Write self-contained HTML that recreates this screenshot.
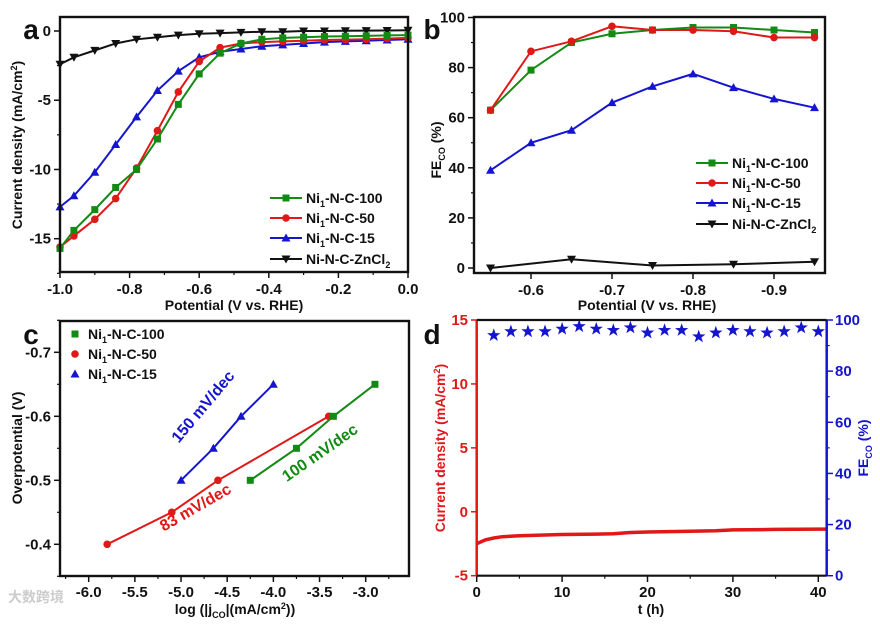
<!DOCTYPE html>
<html><head><meta charset="utf-8">
<style>
body{margin:0;background:#fff;}
svg{display:block;font-family:"Liberation Sans",Arial,sans-serif;font-weight:bold;}
</style></head>
<body>
<svg id="fig" width="880" height="624" viewBox="0 0 880 624" xmlns="http://www.w3.org/2000/svg"></svg>
<script>
// ---------- data ----------
const aX = [-1.0,-0.96,-0.9,-0.84,-0.78,-0.72,-0.66,-0.6,-0.54,-0.48,-0.42,-0.36,-0.3,-0.24,-0.18,-0.12,-0.06,0];
const aGreen = [-15.7,-14.4,-12.9,-11.3,-10.0,-7.8,-5.3,-3.1,-1.6,-0.9,-0.6,-0.5,-0.45,-0.4,-0.38,-0.35,-0.32,-0.3];
const aRed = [-15.6,-14.8,-13.6,-12.1,-9.9,-7.2,-4.4,-2.2,-1.2,-0.9,-0.8,-0.75,-0.7,-0.65,-0.62,-0.6,-0.55,-0.5];
const aBlue = [-12.7,-11.9,-10.2,-8.2,-6.2,-4.3,-2.9,-1.9,-1.5,-1.3,-1.1,-1.0,-0.9,-0.8,-0.75,-0.7,-0.65,-0.6];
const aBlack = [-2.4,-1.9,-1.4,-0.9,-0.6,-0.45,-0.3,-0.2,-0.15,-0.1,-0.05,-0.05,0,0,0.02,0.03,0.04,0.05];
const aXTicks = [-1.0,-0.8,-0.6,-0.4,-0.2,0.0];
const aXTickLabels = ["-1.0","-0.8","-0.6","-0.4","-0.2","0.0"];
const aYTicks = [0,-5,-10,-15];

const bX = [-0.55,-0.6,-0.65,-0.7,-0.75,-0.8,-0.85,-0.9,-0.95];
const bGreen = [63,79,90,93.5,95,96,96,95,94];
const bRed = [63,86.5,90.5,96.5,95,95,94.5,92,92];
const bBlue = [39,50,55,66,72.5,77.5,72,67.5,64];
const bBlackX = [-0.55,-0.65,-0.75,-0.85,-0.95];
const bBlack = [0,3.5,1,1.5,2.5];
const bXTicks = [-0.6,-0.7,-0.8,-0.9];
const bYTicks = [0,20,40,60,80,100];

const cRedX = [-5.8,-5.1,-4.6,-3.4];
const cRedY = [-0.4,-0.45,-0.5,-0.6];
const cGreenX = [-4.25,-3.75,-3.35,-2.9];
const cGreenY = [-0.5,-0.55,-0.6,-0.65];
const cBlueX = [-5.0,-4.65,-4.35,-4.0];
const cBlueY = [-0.5,-0.55,-0.6,-0.65];
const cXTicks = [-6.0,-5.5,-5.0,-4.5,-4.0,-3.5,-3.0];
const cYTicks = [-0.7,-0.6,-0.5,-0.4];

const dT = [0,0.5,1,2,3,5,8,10,14,16,18,20,25,28,30,35,40,41];
const dJ = [-2.5,-2.35,-2.2,-2.05,-1.95,-1.88,-1.82,-1.78,-1.75,-1.72,-1.62,-1.58,-1.52,-1.48,-1.42,-1.38,-1.36,-1.36];
const dStarT = [2,4,6,8,10,12,14,16,18,20,22,24,26,28,30,32,34,36,38,40];
const dStarFE = [94,95.5,95.5,95.5,96.5,97.5,96.5,96,97,95,96,96,93.5,95,96,95.5,95,95.5,97,95.5];
const dXTicks = [0,10,20,30,40];
const dYLTicks = [-5,0,5,10,15];
const dYRTicks = [0,20,40,60,80,100];

// ---------- helpers ----------
const NS="http://www.w3.org/2000/svg";
const svg=document.getElementById('fig');
const TF=15, AF=14;
function el(tag,attrs,parent){const e=document.createElementNS(NS,tag);for(const k in attrs)e.setAttribute(k,attrs[k]);(parent||svg).appendChild(e);return e;}
function lin(d0,d1,r0,r1){return v=>r0+(v-d0)*(r1-r0)/(d1-d0);}
function txt(x,y,s,size,opt){const t=el('text',Object.assign({x:x,y:y,'font-size':size,'text-anchor':'middle',fill:'#111'},opt||{}));t.textContent=s;return t;}
function marker(g,type,x,y,c){
  let m;
  if(type==='sq') m=el('rect',{x:x-3.5,y:y-3.5,width:7,height:7,fill:c},g);
  else if(type==='ci') m=el('circle',{cx:x,cy:y,r:3.8,fill:c},g);
  else if(type==='tu') m=el('polygon',{points:`${x},${y-4.5} ${x+4.5},${y+3.5} ${x-4.5},${y+3.5}`,fill:c},g);
  else if(type==='td') m=el('polygon',{points:`${x},${y+4.5} ${x+4.5},${y-3.5} ${x-4.5},${y-3.5}`,fill:c},g);
  else if(type==='star'){let p=[];for(let i=0;i<10;i++){const r=i%2?2.8:7;const a=-Math.PI/2+i*Math.PI/5;p.push((x+r*Math.cos(a)).toFixed(1)+','+(y+r*Math.sin(a)).toFixed(1));}m=el('polygon',{points:p.join(' '),fill:c},g);}
  return m;
}
function series(g,xs,ys,sx,sy,c,type,name,line){
  const s=el('g',{},g);
  
  
  if(line!==false) el('polyline',{points:xs.map((v,i)=>sx(v)+','+sy(ys[i])).join(' '),fill:'none',stroke:c,'stroke-width':2},s);
  xs.forEach((v,i)=>{const m=marker(s,type,sx(v),sy(ys[i]),c);});
}
function box(x0,y0,x1,y1,name,col){const r=el('rect',{x:x0,y:y0,width:x1-x0,height:y1-y0,fill:'none',stroke:col||'#111','stroke-width':2.4});}
function minorX(g,x0,x1,step,sx,y,col){for(let v=x0;v<=x1+1e-9;v+=step){el('line',{x1:sx(v),y1:y,x2:sx(v),y2:y+3,stroke:col||'#111','stroke-width':1.2},g);}}
function minorY(g,y0,y1,step,sy,x,dir,col){for(let v=y0;v<=y1+1e-9;v+=step){el('line',{x1:x,y1:sy(v),x2:x+3*dir,y2:sy(v),stroke:col||'#111','stroke-width':1.2},g);}}
function legendLine(g,x,y,c,type,label){
  el('line',{x1:x,y1:y,x2:x+32,y2:y,stroke:c,'stroke-width':2},g);
  marker(g,type,x+16,y,c);
  const t=el('text',{x:x+36,y:y+5,'font-size':14,fill:'#111'},g);
  t.innerHTML=label;
}
const NI1='Ni<tspan font-size="9" dy="4">1</tspan><tspan dy="-4">-N-C-</tspan>';

// ---------- panel a ----------
(function(){
  const g=el('g',{});
  const sx=lin(-1,0,60,408), sy=lin(0,-15,31,238.7);
  series(g,aX,aBlack,sx,sy,'#111','td','series-a-ni-n-c-zncl2');
  series(g,aX,aBlue,sx,sy,'#1515d0','tu','series-a-ni1-n-c-15');
  series(g,aX,aRed,sx,sy,'#e01818','ci','series-a-ni1-n-c-50');
  series(g,aX,aGreen,sx,sy,'#138a13','sq','series-a-ni1-n-c-100');
  box(60,17,408,272,'plot-area-a');
  minorX(g,-0.9,-0.1,0.2,sx,272);
  minorY(g,-17.5,0,5,sy,60,-1);
  aXTicks.forEach((v,i)=>{el('line',{x1:sx(v),y1:272,x2:sx(v),y2:278,stroke:'#111','stroke-width':1.5},g);txt(sx(v),294,aXTickLabels[i],TF);});
  aYTicks.forEach(v=>{el('line',{x1:54,y1:sy(v),x2:60,y2:sy(v),stroke:'#111','stroke-width':1.5},g);txt(51,sy(v)+5,String(v),TF,{'text-anchor':'end'});});
  txt(234,310,'Potential (V vs. RHE)',AF);
  const yl=txt(0,0,'',AF,{transform:'translate(22,145) rotate(-90)'});yl.innerHTML='Current density (mA/cm<tspan font-size="9" dy="-5">2</tspan><tspan dy="5">)</tspan>';
  txt(31,39,'a',28);
  const lg=el('g',{},g);
  legendLine(lg,270,198,'#138a13','sq',NI1+'100');
  legendLine(lg,270,218,'#e01818','ci',NI1+'50');
  legendLine(lg,270,238,'#1515d0','tu',NI1+'15');
  legendLine(lg,270,259,'#111','td','Ni-N-C-ZnCl<tspan font-size="9" dy="4">2</tspan>');
})();

// ---------- panel b ----------
(function(){
  const g=el('g',{});
  const sx=lin(-0.6,-0.9,531,774), sy=lin(0,100,268,17.5);
  series(g,bBlackX,bBlack,sx,sy,'#111','td','series-b-ni-n-c-zncl2');
  series(g,bX,bBlue,sx,sy,'#1515d0','tu','series-b-ni1-n-c-15');
  series(g,bX,bGreen,sx,sy,'#138a13','sq','series-b-ni1-n-c-100');
  series(g,bX,bRed,sx,sy,'#e01818','ci','series-b-ni1-n-c-50');
  box(474,17,825,273,'plot-area-b');
  minorY(g,10,90,20,sy,474,-1);
  bXTicks.forEach(v=>{el('line',{x1:sx(v),y1:273,x2:sx(v),y2:279,stroke:'#111','stroke-width':1.5},g);txt(sx(v),295,v.toFixed(1),TF);});
  bYTicks.forEach(v=>{el('line',{x1:468,y1:sy(v),x2:474,y2:sy(v),stroke:'#111','stroke-width':1.5},g);txt(465,sy(v)+5,String(v),TF,{'text-anchor':'end'});});
  txt(647,310,'Potential (V vs. RHE)',AF);
  const yl=txt(0,0,'',AF,{transform:'translate(441,150) rotate(-90)'});yl.innerHTML='FE<tspan font-size="9" dy="4">CO</tspan><tspan dy="-4"> (%)</tspan>';
  txt(432,39,'b',28);
  const lg=el('g',{},g);
  legendLine(lg,696,163,'#138a13','sq',NI1+'100');
  legendLine(lg,696,183,'#e01818','ci',NI1+'50');
  legendLine(lg,696,203,'#1515d0','tu',NI1+'15');
  legendLine(lg,696,224,'#111','td','Ni-N-C-ZnCl<tspan font-size="9" dy="4">2</tspan>');
})();

// ---------- panel c ----------
(function(){
  const g=el('g',{});
  const sx=lin(-6,-3,88.7,365.7), sy=lin(-0.7,-0.4,352.3,544.3);
  series(g,cRedX,cRedY,sx,sy,'#e01818','ci','series-c-ni1-n-c-50');
  series(g,cGreenX,cGreenY,sx,sy,'#138a13','sq','series-c-ni1-n-c-100');
  series(g,cBlueX,cBlueY,sx,sy,'#1515d0','tu','series-c-ni1-n-c-15');
  box(60,321,409,576,'plot-area-c');
  minorX(g,-6.25,-2.75,0.5,sx,576);
  minorY(g,-0.75,-0.35,0.1,sy,60,-1);
  cXTicks.forEach(v=>{el('line',{x1:sx(v),y1:576,x2:sx(v),y2:582,stroke:'#111','stroke-width':1.5},g);txt(sx(v),597,v.toFixed(1),TF);});
  cYTicks.forEach(v=>{el('line',{x1:54,y1:sy(v),x2:60,y2:sy(v),stroke:'#111','stroke-width':1.5},g);txt(51,sy(v)+5,v.toFixed(1),TF,{'text-anchor':'end'});});
  const xl=txt(235,614,'',AF);xl.innerHTML='log (|j<tspan font-size="9" dy="4">CO</tspan><tspan dy="-4">|(mA/cm</tspan><tspan font-size="9" dy="-5">2</tspan><tspan dy="5">))</tspan>';
  txt(0,0,'Overpotential (V)',AF,{transform:'translate(22,448) rotate(-90)'});
  txt(31,344,'c',28);
  txt(0,0,'150 mV/dec',16,{fill:'#1515d0',transform:'translate(207,410) rotate(-50)'});
  txt(0,0,'83 mV/dec',16,{fill:'#e01818',transform:'translate(198,512) rotate(-30)'});
  txt(0,0,'100 mV/dec',16,{fill:'#138a13',transform:'translate(323,457) rotate(-35)'});
  const lg=el('g',{},g);
  [['#138a13','sq','100',334],['#e01818','ci','50',354],['#1515d0','tu','15',374]].forEach(r=>{marker(lg,r[1],75,r[3],r[0]);const t=el('text',{x:88,y:r[3]+5,'font-size':14,fill:'#111'},lg);t.innerHTML=NI1+r[2];});
  const w=txt(8,602,'大数跨境',14,{'text-anchor':'start',fill:'#ccc','font-family':'"Liberation Sans","Noto Sans CJK SC",sans-serif'});
  
})();

// ---------- panel d ----------
(function(){
  const g=el('g',{});
  const sx=lin(0,40,476.7,818.3), syL=lin(15,-5,320,575.7), syR=lin(100,0,320,575.7);
  const ln=el('polyline',{points:dT.map((v,i)=>sx(v)+','+syL(dJ[i])).join(' '),fill:'none',stroke:'#e01818','stroke-width':3.5},g);
  
  series(g,dStarT,dStarFE,sx,syR,'#1515d0','star','fe-co-stars',false);
  el('line',{x1:476.7,y1:320,x2:476.7,y2:575.7,stroke:'#e01818','stroke-width':2.5},g);
  el('line',{x1:826.7,y1:320,x2:826.7,y2:575.7,stroke:'#1515d0','stroke-width':2.5},g);
  el('line',{x1:476.7,y1:320,x2:826.7,y2:320,stroke:'#111','stroke-width':2.2},g);
  el('line',{x1:476.7,y1:575.7,x2:826.7,y2:575.7,stroke:'#111','stroke-width':2.2},g);
  minorX(g,5,35,10,sx,575.7);
  minorY(g,10,90,20,syR,826.7,1,'#1515d0');
  dXTicks.forEach(v=>{el('line',{x1:sx(v),y1:575.7,x2:sx(v),y2:582,stroke:'#111','stroke-width':1.5},g);txt(sx(v),597,String(v),TF);});
  dYLTicks.forEach(v=>{el('line',{x1:471,y1:syL(v),x2:476.7,y2:syL(v),stroke:'#e01818','stroke-width':1.5},g);txt(468,syL(v)+5,String(v),TF,{'text-anchor':'end',fill:'#e01818'});});
  dYRTicks.forEach(v=>{el('line',{x1:826.7,y1:syR(v),x2:833,y2:syR(v),stroke:'#1515d0','stroke-width':1.5},g);txt(835,syR(v)+5,String(v),TF,{'text-anchor':'start',fill:'#1515d0'});});
  txt(651,614,'t (h)',AF);
  const yl=txt(0,0,'',AF,{fill:'#e01818',transform:'translate(445,448) rotate(-90)'});yl.innerHTML='Current density (mA/cm<tspan font-size="9" dy="-5">2</tspan><tspan dy="5">)</tspan>';
  const yr=txt(0,0,'',AF,{fill:'#1515d0',transform:'translate(868,448) rotate(-90)'});yr.innerHTML='FE<tspan font-size="9" dy="4">CO</tspan><tspan dy="-4"> (%)</tspan>';
  txt(432,344,'d',28);
})();
</script>
</body></html>
